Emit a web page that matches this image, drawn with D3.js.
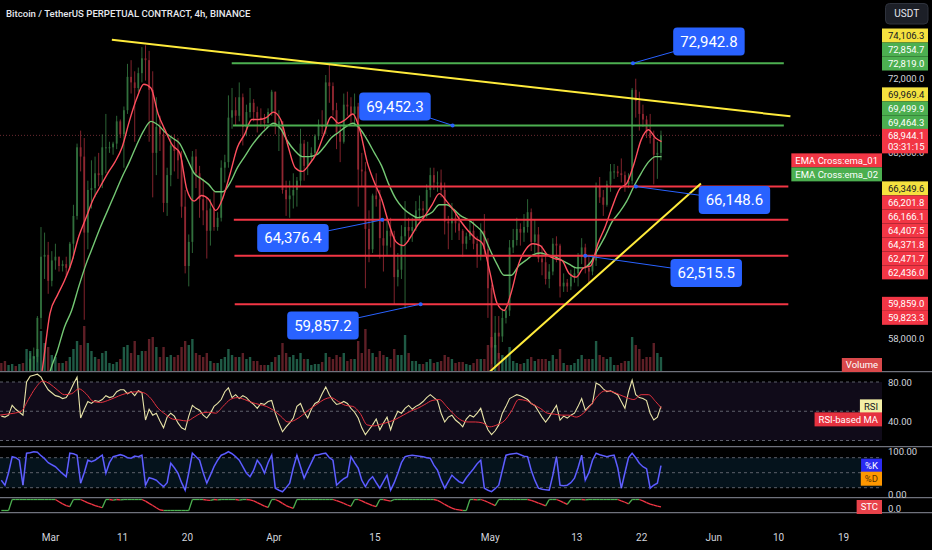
<!DOCTYPE html>
<html>
<head>
<meta charset="utf-8">
<script src="https://cdn.jsdelivr.net/npm/d3@7"></script>
<style>
  body { margin: 0; background: #000; }
  svg { display: block; }
  text { font-family: Roboto, "Noto Sans", sans-serif; }
</style>
</head>
<body>
<svg id="chart" width="932" height="550"></svg>
<script>
// ---------- data (prices in hundreds of USDT, 12h candles from 2024-02-23) ----------
const candleStart = Date.UTC(2024, 1, 23);
const barMs = 12 * 3600 * 1000;
const firstOpen = 513;

const hi = [
  515,514, 513,517, 519,520, 518,549, 572,575, 592,640, 637,632,
  627,631, 624,622, 624,632, 652,685, 692,688, 665,676, 678,680, 690,701, 686,686, 700,698,
  705,728, 730,724, 726,737, 738,735, 724,710, 700,694, 672,689, 690,688, 681,660, 636,681,
  682,673, 666,656, 655,660, 648,676, 679,711, 715,710, 718,712, 706,715, 709,705, 704,701, 704,714,
  713,703, 697,665, 665,669, 667,693, 687,686, 683,690, 698,703, 722,728, 718,707, 695,712,
  713,710, 712,707, 680,675, 649,658, 669,660, 644,645, 645,638, 626,641, 654,645, 645,654,
  657,654, 663,672, 672,670, 671,664, 646,653, 648,646, 639,637, 644,643, 635,642, 647,634,
  609,592, 592,596, 597,633, 639,645, 642,647, 655,650, 644,640, 630,625, 620,634, 635,631,
  615,612, 617,618, 626,634, 631,624, 625,664, 667,660, 665,674, 674,673, 677,670, 669,715,
  720,713, 706,700, 701,692, 686,692
];
const lo = [
  507,505, 506,510, 513,513, 509,512, 544,562, 567,585, 612,604,
  608,617, 616,616, 613,617, 623,644, 670,590, 628,650, 656,662, 661,669, 680,679, 682,688,
  672,701, 712,686, 713,718, 719,686, 656,668, 681,648, 646,662, 670,666, 645,615, 608,626,
  661,645, 641,623, 630,638, 638,643, 664,672, 693,695, 697,684, 689,699, 697,691, 694,693, 696,700,
  690,681, 658,646, 645,650, 651,662, 665,668, 675,678, 687,690, 690,707, 700,682, 675,685,
  700,696, 695,651, 662,607, 621,626, 651,623, 616,625, 629,598, 608,612, 596,632, 632,638,
  644,643, 645,656, 660,659, 656,636, 628,633, 637,633, 624,628, 633,628, 618,622, 625,591,
  566,566, 569,578, 588,592, 626,630, 630,632, 637,627, 626,621, 614,609, 607,614, 621,602,
  605,605, 606,610, 608,620, 615,610, 614,619, 653,646, 651,659, 666,667, 664,659, 661,663,
  699,692, 694,688, 685,663, 666,676
];
const cl = [
  510,508, 511,516, 515,517, 513,545, 569,570, 591,624, 625,611,
  622,624, 619,620, 618,631, 646,683, 678,637, 660,661, 669,668, 683,683, 683,685, 697,690,
  703,721, 718,715, 723,731, 730,714, 680,694, 690,653, 668,684, 681,676, 651,619, 632,678,
  669,655, 649,638, 650,640, 645,672, 675,699, 703,700, 710,694, 702,707, 702,699, 698,696, 702,713,
  695,697, 660,655, 657,660, 665,685, 673,678, 680,689, 695,694, 718,716, 703,691, 686,706,
  705,701, 705,671, 670,639, 628,657, 655,634, 630,638, 635,613, 617,635, 640,638, 640,649,
  650,649, 660,668, 664,664, 660,643, 642,645, 642,638, 631,635, 638,631, 625,638, 628,607,
  575,583, 581,591, 595,629, 633,639, 637,640, 648,632, 636,623, 621,612, 616,631, 630,608,
  610,608, 613,615, 624,629, 618,616, 622,662, 656,652, 663,670, 670,669, 668,663, 665,714,
  708,701, 698,691, 688,679, 680,689.441
];
const vol = [
  8,10, 6,7, 5,7, 8,22, 20,15, 22,40, 28,24,
  16,14, 8,8, 10,14, 22,30, 26,45, 28,20, 14,12, 18,20, 8,7, 9,12,
  24,26, 18,30, 16,20, 20,32, 34,24, 14,24, 14,16, 14,16, 24,30, 26,32,
  18,16, 14,18, 10,8, 8,12, 14,22, 16,14, 14,18, 12,14, 10,10, 6,6, 6,9,
  14,16, 28,18, 14,16, 12,18, 12,12, 6,7, 7,9, 18,14, 12,16, 14,18,
  10,12, 12,30, 18,42, 22,18, 14,20, 16,14, 12,22, 16,16, 36,18, 10,10,
  7,7, 9,12, 8,9, 10,16, 14,12, 8,9, 9,7, 6,8, 12,12, 12,26,
  34,26, 18,16, 14,24, 10,8, 7,8, 12,14, 10,12, 12,12, 10,16, 12,22,
  8,6, 6,8, 12,16, 12,12, 12,30, 16,14, 12,14, 6,6, 8,10, 10,34,
  26,22, 12,14, 14,28, 18,14
];

// oscillators, one value per 12h candle
const rsi = [
  45,44,46,56,52,49,46,80,86,87,88,85,78,72,
  69,66,65,63,64,70,78,85,43,52,60,58,61,60,62,66,64,65,70,72,
  72,68,70,66,71,69,41,52,46,48,40,33,44,48,45,38,33,31,45,56,
  53,51,46,43,48,55,58,62,70,74,64,67,63,66,64,60,57,53,58,57,60,61,
  48,38,29,34,38,43,55,58,49,43,52,58,60,68,75,67,61,57,58,60,
  58,53,49,43,33,26,31,36,42,31,38,44,31,42,50,48,53,56,52,55,
  57,60,64,67,64,61,48,39,44,46,41,38,34,42,46,44,48,53,40,31,
  26,30,36,48,55,63,65,67,66,64,62,58,56,50,44,39,44,50,56,41,
  45,43,46,48,55,63,51,55,58,79,77,73,70,71,69,67,60,53,70,82,
  67,64,63,61,48,41,44,55
];
const stochK = [
  35,25,50,82,80,75,25,89,90,92,91,84,78,70,
  66,62,55,48,42,89,88,85,29,50,75,72,75,80,85,49,70,82,84,86,
  84,80,79,83,82,85,25,40,38,35,28,22,30,69,60,49,30,15,50,89,
  82,75,50,29,45,62,75,85,88,92,88,82,75,62,49,42,55,75,65,49,70,85,
  19,15,12,20,29,60,85,62,39,55,70,85,86,88,89,80,75,25,32,38,
  42,82,70,59,35,22,35,42,30,19,32,45,15,30,49,70,82,84,85,84,
  83,82,80,79,65,55,35,19,32,45,38,32,29,40,49,58,68,75,19,15,
  12,18,25,55,85,87,88,89,86,83,82,55,35,19,17,16,15,45,82,25,
  24,25,30,39,60,85,35,50,75,89,86,84,82,84,85,60,19,50,80,89,
  80,69,62,58,19,25,29,64
];
const stc = [
  0,0,0,100,100,100,100,100,100,100,100,100,100,100,
  100,100,80,60,45,35,100,100,100,85,70,58,45,35,25,100,100,95,100,96,
  100,100,100,100,100,100,85,65,45,25,5,0,0,0,0,0,0,0,0,100,
  100,100,100,94,92,100,97,100,100,100,100,100,95,100,100,96,88,72,55,40,28,100,
  100,85,65,45,30,20,100,100,100,100,100,100,100,100,100,100,100,90,78,65,
  50,38,100,100,88,72,58,45,35,100,100,92,85,100,100,100,100,100,100,100,
  100,100,100,100,100,92,75,55,38,22,10,5,0,0,100,100,96,100,90,75,
  60,45,100,100,100,100,100,100,100,100,100,92,80,68,55,42,100,100,100,88,
  72,55,100,100,100,100,97,100,100,100,100,100,100,100,100,100,88,75,60,100,
  100,100,88,72,58,48,40,32
];

// smooth lines, one value per day (00:00 UTC from Feb 23) plus the live bar
const emaFast = [
  512,510,514,516,519,540,565,
  593.5,603,611,621,635,645,655,662,669,675,
  683,697,709,717,715,701,692,684,680,660,
  654,657,655,649,656,669,683,690,698,698,699,
  702,698,684,672,670,674,680,690,699.5,696,
  698,701,692,675,664,655,642,632,630,634.5,
  641,646,652,658,654,649,643,638,634,631,
  616,599,595,605,620,628,631,630,625,623,
  622,615,613,618,619,631,640,651,660.5,663.5,
  674,687,692.5,688,
  686
];
const emaSlow = [
  505,506,509,511,513,527,544,
  562,573,586,595,608,620,630,640,649,658,
  667,675,684,692,697,695,691,688,685,677,
  669,666,663,659,659,664,672,678,684,689,693,
  696,693,686,681,678,678,679,683,688,691,
  694,696,693,687,680,673,663,655,650,647,
  645,646,648,652,652,649.5,646,644,641,637,
  628,620,614,614,619,622,625,626,625,624,
  622,620,618,618,621,628,635,643,648,654,
  662,669,675,678,
  678
];
const rsiMa = [
  46,47,48,50,62,74,81,
  78,72,67,68,73,68,60,59,61,64,
  67,69,70,69,63,53,47,42,41,40,
  44,48,49,48,55,62,64,62,59,57,55,
  51,45,39,41,46,52,57,62,64,60,
  56,55,48,36,35,37,39,42,46,50,
  53,57,61,62,55,47,41,39,39,38,
  34,36,40,50,62,61,57,53,48,47,
  46,46,44,48,56,66,71,70,67,64,
  62,67,67,60,
  53
];
const liveBar = '2024-05-24T20:00Z';
const countdown = '03:31:15';
const stochDLast = 40;

// axes
const xTickDates = ['2024-03-01','2024-03-11','2024-03-20','2024-04-01','2024-04-15','2024-05-01',
                    '2024-05-13','2024-05-22','2024-06-01','2024-06-10','2024-06-19'];
const xTickLabels = ['Mar','11','20','Apr','15','May','13','22','Jun','10','19'];
const priceTicks = [580, 680, 720];

// drawings
const trendlines = [
  { from: ['2024-03-09T14:00Z', 741.063], to: ['2024-06-11T17:00Z', 699.694] },
  { from: ['2024-05-01T00:00Z', 562.0],   to: ['2024-05-30T07:00Z', 663.496] }
];
const levels = [
  { price: 728.3685, from: '2024-03-26T05:00Z', to: '2024-06-10T19:00Z', color: '#4caf50' },
  { price: 694.821,  from: '2024-03-26T09:00Z', to: '2024-06-10T19:00Z', color: '#4caf50' },
  { price: 661.8395, from: '2024-03-26T17:00Z', to: '2024-06-11T10:00Z', color: '#f23645' },
  { price: 643.8965, from: '2024-03-26T12:00Z', to: '2024-06-11T10:00Z', color: '#f23645' },
  { price: 624.5385, from: '2024-03-26T14:00Z', to: '2024-06-11T10:00Z', color: '#f23645' },
  { price: 598.4115, from: '2024-03-26T15:00Z', to: '2024-06-11T10:00Z', color: '#f23645' }
];
const callouts = [
  { text: '72,942.8', at: ['2024-05-20T20:40Z', 728.37], box: ['2024-05-31T09:40Z', 740.0] },
  { text: '69,452.3', at: ['2024-04-25T20:20Z', 694.82], box: ['2024-04-17T20:20Z', 705.0] },
  { text: '64,376.4', at: ['2024-04-16T02:10Z', 643.90], box: ['2024-04-03T16:50Z', 634.1] },
  { text: '59,857.2', at: ['2024-04-21T09:50Z', 598.41], box: ['2024-04-07T20:40Z', 586.9] },
  { text: '66,148.6', at: ['2024-05-21T06:40Z', 661.84], box: ['2024-06-03T22:30Z', 654.6] },
  { text: '62,515.5', at: ['2024-05-14T06:00Z', 624.54], box: ['2024-05-31T00:40Z', 615.2] }
];

const yellow = '#f5e13f', green = '#4caf50', red = '#f23645';
const priceTags = [
  { label: '74,106.3', fill: yellow }, { label: '72,854.7', fill: green }, { label: '72,819.0', fill: green },
  { label: '69,969.4', fill: yellow }, { label: '69,499.9', fill: green }, { label: '69,464.3', fill: green },
  { label: '66,349.6', fill: yellow }, { label: '66,201.8', fill: red }, { label: '66,166.1', fill: red },
  { label: '64,407.5', fill: red }, { label: '64,371.8', fill: red }, { label: '62,471.7', fill: red },
  { label: '62,436.0', fill: red }, { label: '59,859.0', fill: red }, { label: '59,823.3', fill: red }
];

// ---------- layout ----------
const W = 932, H = 550, plotRight = 882;
const pane = { main: [0, 371], rsi: [372, 446], stoch: [447, 497], stc: [498, 512] };

const svg = d3.select('#chart');
svg.append('rect').attr('width', W).attr('height', H).attr('fill', '#000');
const defs = svg.append('defs');

const x = d3.scaleUtc()
  .domain([Date.UTC(2024, 2, 1), Date.UTC(2024, 5, 19)])
  .range([50, 843]);
const y = d3.scaleLinear().domain([580, 720]).range([338.3, 78.7]);
const yVol = d3.scaleLinear().domain([0, 50]).range([371, 321]);
const yRsi = d3.scaleLinear().domain([80, 20]).range([382, 440.5]);
const yStoch = d3.scaleLinear().domain([0, 100]).range([497.7, 447.7]);
const yStc = d3.scaleLinear().domain([0, 100]).range([510.5, 499.5]);

function paneGroup(id, [y0, y1]) {
  defs.append('clipPath').attr('id', id)
    .append('rect').attr('x', 0).attr('y', y0).attr('width', plotRight).attr('height', y1 - y0);
  return svg.append('g').attr('clip-path', `url(#${id})`);
}

const bars = cl.map((c, i) => {
  const t = candleStart + i * barMs;
  return { mid: new Date(t + barMs / 2), o: i ? cl[i - 1] : firstOpen, h: hi[i], l: lo[i], c, v: vol[i] };
});
const days = d3.utcDay.range(new Date(candleStart), new Date(Date.UTC(2024, 4, 25)));
days.push(new Date(liveBar));

const upCol = '#3f8f4e', downCol = '#b9323f';
const step = x(new Date(barMs)) - x(new Date(0));
const bodyW = step * 0.5;

// ---------- main pane ----------
const gMain = paneGroup('clip-main', pane.main);

gMain.selectAll('.vol').data(bars).enter().append('rect')
  .attr('x', d => x(d.mid) - step * 0.33)
  .attr('width', step * 0.66)
  .attr('y', d => yVol(d.v))
  .attr('height', d => yVol(0) - yVol(d.v))
  .attr('fill', d => d.c >= d.o ? '#1f5a45' : '#5e1f26');

// live price line
gMain.append('line')
  .attr('x1', 0).attr('x2', plotRight)
  .attr('y1', y(cl[cl.length - 1])).attr('y2', y(cl[cl.length - 1]))
  .attr('stroke', '#6a2a31').attr('stroke-dasharray', '1,2');

const candle = gMain.selectAll('.candle').data(bars).enter().append('g')
  .attr('opacity', 0.78);
candle.append('line')
  .attr('x1', d => x(d.mid)).attr('x2', d => x(d.mid))
  .attr('y1', d => y(d.h)).attr('y2', d => y(d.l))
  .attr('stroke', d => d.c >= d.o ? upCol : downCol).attr('stroke-width', 0.9);
candle.append('rect')
  .attr('x', d => x(d.mid) - bodyW / 2)
  .attr('width', bodyW)
  .attr('y', d => y(Math.max(d.o, d.c)))
  .attr('height', d => Math.max(1, Math.abs(y(d.o) - y(d.c))))
  .attr('fill', d => d.c >= d.o ? upCol : downCol);

const dayLine = (vals, yScale) => d3.line()
  .x((d, i) => x(days[i])).y(d => yScale(d))
  .curve(d3.curveMonotoneX)(vals);

gMain.append('path').attr('d', dayLine(emaSlow, y))
  .attr('fill', 'none').attr('stroke', '#74c874').attr('stroke-width', 1.4);
gMain.append('path').attr('d', dayLine(emaFast, y))
  .attr('fill', 'none').attr('stroke', '#ff4f5e').attr('stroke-width', 1.4);

gMain.selectAll('.level').data(levels).enter().append('line')
  .attr('x1', d => x(new Date(d.from))).attr('x2', d => x(new Date(d.to)))
  .attr('y1', d => y(d.price)).attr('y2', d => y(d.price))
  .attr('stroke', d => d.color).attr('stroke-width', 2);

gMain.selectAll('.trend').data(trendlines).enter().append('line')
  .attr('x1', d => x(new Date(d.from[0]))).attr('y1', d => y(d.from[1]))
  .attr('x2', d => x(new Date(d.to[0]))).attr('y2', d => y(d.to[1]))
  .attr('stroke', '#ffeb3b').attr('stroke-width', 2);

const co = gMain.selectAll('.callout').data(callouts).enter().append('g');
co.append('line')
  .attr('x1', d => x(new Date(d.box[0]))).attr('y1', d => y(d.box[1]))
  .attr('x2', d => x(new Date(d.at[0]))).attr('y2', d => y(d.at[1]))
  .attr('stroke', '#2962ff').attr('stroke-width', 1);
co.append('circle')
  .attr('cx', d => x(new Date(d.at[0]))).attr('cy', d => y(d.at[1])).attr('r', 2)
  .attr('fill', '#2962ff');
co.each(function(d) {
  const g = d3.select(this);
  const cx = x(new Date(d.box[0])), cy = y(d.box[1]);
  const t = g.append('text').attr('x', cx).attr('y', cy).attr('dy', '0.36em')
    .attr('text-anchor', 'middle').attr('fill', '#fff').attr('font-size', 15).text(d.text);
  const w = t.node().getComputedTextLength() + 14;
  g.insert('rect', 'text').attr('x', cx - w / 2).attr('y', cy - 14).attr('width', w).attr('height', 28)
    .attr('rx', 4).attr('fill', '#2962ff');
});

// ---------- RSI pane ----------
const gRsi = paneGroup('clip-rsi', pane.rsi);
gRsi.append('rect').attr('x', 0).attr('width', plotRight)
  .attr('y', yRsi(80)).attr('height', yRsi(20) - yRsi(80)).attr('fill', '#100b19');
gRsi.selectAll('.band').data([80, 50, 20]).enter().append('line')
  .attr('x1', 0).attr('x2', plotRight).attr('y1', d => yRsi(d)).attr('y2', d => yRsi(d))
  .attr('stroke', '#5d606b').attr('stroke-dasharray', '3,3');
gRsi.append('path')
  .attr('d', d3.line().x((d, i) => x(bars[i].mid)).y(d => yRsi(d))(rsi))
  .attr('fill', 'none').attr('stroke', '#e8e4a8').attr('stroke-width', 1.1);
gRsi.append('path').attr('d', dayLine(rsiMa, yRsi))
  .attr('fill', 'none').attr('stroke', '#e5323f').attr('stroke-width', 1);

// ---------- Stoch pane ----------
const gSt = paneGroup('clip-stoch', pane.stoch);
gSt.append('rect').attr('x', 0).attr('width', plotRight)
  .attr('y', yStoch(80)).attr('height', yStoch(20) - yStoch(80)).attr('fill', '#05131c');
gSt.selectAll('.band').data([80, 50, 20]).enter().append('line')
  .attr('x1', 0).attr('x2', plotRight).attr('y1', d => yStoch(d)).attr('y2', d => yStoch(d))
  .attr('stroke', '#5d606b').attr('stroke-dasharray', '3,3');
const kLine = d3.line().x((d, i) => x(bars[i].mid)).y(d => yStoch(d))(stochK);
gSt.append('path').attr('d', kLine)
  .attr('fill', 'none').attr('stroke', '#4040f2').attr('stroke-width', 1.6);
gSt.append('path').attr('d', kLine)
  .attr('fill', 'none').attr('stroke', '#c4c4ff').attr('stroke-width', 0.5).attr('opacity', 0.6);

// ---------- STC pane ----------
const gStc = paneGroup('clip-stc', pane.stc);
gStc.selectAll('.seg').data(d3.pairs(stc.map((v, i) => ({ v, t: bars[i].mid })))).enter().append('line')
  .attr('x1', d => x(d[0].t)).attr('y1', d => yStc(d[0].v))
  .attr('x2', d => x(d[1].t)).attr('y2', d => yStc(d[1].v))
  .attr('stroke', d => d[1].v >= d[0].v ? '#4caf50' : '#f23645').attr('stroke-width', 1.3);

// ---------- separators ----------
svg.selectAll('.sep').data([pane.main[1], pane.rsi[1], pane.stoch[1], pane.stc[1]]).enter().append('line')
  .attr('x1', 0).attr('x2', W).attr('y1', d => d + 0.7).attr('y2', d => d + 0.7)
  .attr('stroke', '#6f727c').attr('stroke-width', 1.3);

// ---------- axes ----------
const axisFont = 9.5, textCol = '#d1d4dc';
function styleAxis(g) {
  g.select('.domain').remove();
  g.selectAll('.tick line').remove();
  g.selectAll('text').attr('fill', textCol).attr('font-size', axisFont)
    .attr('font-family', 'Roboto, "Noto Sans", sans-serif');
}

svg.append('g').attr('transform', 'translate(0,528)')
  .call(d3.axisBottom(x).tickValues(xTickDates.map(d => new Date(d + 'T00:00Z')))
    .tickFormat((d, i) => xTickLabels[i]).tickSize(0).tickPadding(6))
  .call(styleAxis)
  .call(g => g.selectAll('text').attr('font-size', 10));

svg.append('g').attr('transform', `translate(${plotRight},0)`)
  .call(d3.axisRight(y).tickValues(priceTicks).tickFormat(d => d3.format(',.1f')(d * 100))
    .tickSize(0).tickPadding(6))
  .call(styleAxis);

svg.append('g').attr('transform', `translate(${plotRight},0)`)
  .call(d3.axisRight(yRsi).tickValues([80, 40]).tickFormat(d3.format('.2f')).tickSize(0).tickPadding(6))
  .call(styleAxis);

const stAxis = svg.append('g').attr('transform', `translate(${plotRight},0)`)
  .call(d3.axisRight(yStoch).tickValues([100, 0]).tickFormat(d3.format('.2f')).tickSize(0).tickPadding(6))
  .call(styleAxis);
stAxis.selectAll('text').attr('dy', d => d === 100 ? '0.75em' : '-0.05em');

const stcAxis = svg.append('g').attr('transform', `translate(${plotRight},0)`)
  .call(d3.axisRight(yStc).tickValues([0]).tickFormat(d3.format('.1f')).tickSize(0).tickPadding(6))
  .call(styleAxis);
stcAxis.selectAll('text').attr('dy', '0.1em');

// ---------- price axis tags ----------
function tag(g, text, cy, fill, ink, right) {
  const t = g.append('text').attr('y', cy).attr('dy', '0.35em').attr('fill', ink)
    .attr('font-size', axisFont).text(text);
  if (right) {
    const w = t.node().getComputedTextLength() + 8;
    t.attr('x', plotRight - w + 4);
    g.insert('rect', 'text').attr('x', plotRight - w).attr('y', cy - 7).attr('width', w).attr('height', 14).attr('fill', fill);
  } else {
    t.attr('x', plotRight + 6);
    g.insert('rect', 'text').attr('x', plotRight).attr('y', cy - 7).attr('width', 46).attr('height', 14).attr('fill', fill);
  }
}

const last = cl[cl.length - 1];
const curY = y(last);
const tags = priceTags.map(t => ({ ...t, v: +t.label.replace(/,/g, '') / 100 }))
  .concat([
    { name: 'EMA Cross:ema_01', v: emaFast[emaFast.length - 1], fill: red },
    { name: 'EMA Cross:ema_02', v: emaSlow[emaSlow.length - 1], fill: green }
  ])
  .map(t => ({ ...t, y: y(t.v) }));

let edge = curY - 6;
tags.filter(t => t.y < curY).sort((a, b) => b.y - a.y)
  .forEach(t => { t.cy = Math.min(t.y, edge - 7); edge = t.cy - 7; });
edge = curY + 18;
tags.filter(t => t.y >= curY).sort((a, b) => a.y - b.y)
  .forEach(t => { t.cy = Math.max(t.y, edge + 7); edge = t.cy + 7; });

const gTags = svg.append('g');
tags.forEach(t => {
  const g = gTags.append('g');
  if (t.name) tag(g, t.name, t.cy, t.fill, '#fff', true);
  else tag(g, t.label, t.cy, t.fill, t.fill === yellow ? '#131722' : '#fff', false);
});

const gCur = gTags.append('g');
gCur.append('rect').attr('x', plotRight).attr('y', curY - 6.5).attr('width', 46).attr('height', 24.5).attr('fill', red);
gCur.append('text').attr('x', plotRight + 6).attr('y', curY).attr('dy', '0.35em')
  .attr('fill', '#fff').attr('font-size', axisFont).text(d3.format(',.1f')(last * 100));
gCur.append('text').attr('x', plotRight + 6).attr('y', curY + 11.5).attr('dy', '0.35em')
  .attr('fill', '#fff').attr('font-size', axisFont).text(countdown);

// pane legends stacked beside the axis
function paneTags(list) {
  let prev = -Infinity;
  list.forEach(t => {
    const cy = Math.max(t.y, prev + 13);
    prev = cy;
    tag(gTags.append('g'), t.name, cy, t.fill, t.ink, true);
  });
}
paneTags([
  { name: 'RSI', y: yRsi(rsi[rsi.length - 1]), fill: '#f3efa6', ink: '#131722' },
  { name: 'RSI-based MA', y: yRsi(rsiMa[rsiMa.length - 1]), fill: '#e5323f', ink: '#fff' }
]);
paneTags([
  { name: '%K', y: yStoch(stochK[stochK.length - 1]), fill: '#2b2bf2', ink: '#fff' },
  { name: '%D', y: yStoch(stochDLast), fill: '#ff9800', ink: '#5a3300' }
]);
paneTags([{ name: 'STC', y: yStc(stc[stc.length - 1]), fill: '#e8434b', ink: '#fff' }]);
tag(gTags.append('g'), 'Volume', 365, '#d9494b', '#fff', true);

// ---------- header ----------
svg.append('text').attr('x', 6).attr('y', 14).attr('dy', '0.35em')
  .attr('fill', '#e6e8ee').attr('font-size', 9.6).attr('font-weight', 500)
  .text('Bitcoin / TetherUS PERPETUAL CONTRACT, 4h, BINANCE');

const unit = svg.append('g');
unit.append('rect').attr('x', 885.5).attr('y', 3.5).attr('width', 42.5).attr('height', 20.5).attr('rx', 4)
  .attr('fill', '#1c1f27').attr('stroke', '#2e323c');
unit.append('text').attr('x', 906.7).attr('y', 13.8).attr('dy', '0.35em').attr('text-anchor', 'middle')
  .attr('fill', '#e6e8ee').attr('font-size', 10).text('USDT');
</script>
</body>
</html>
